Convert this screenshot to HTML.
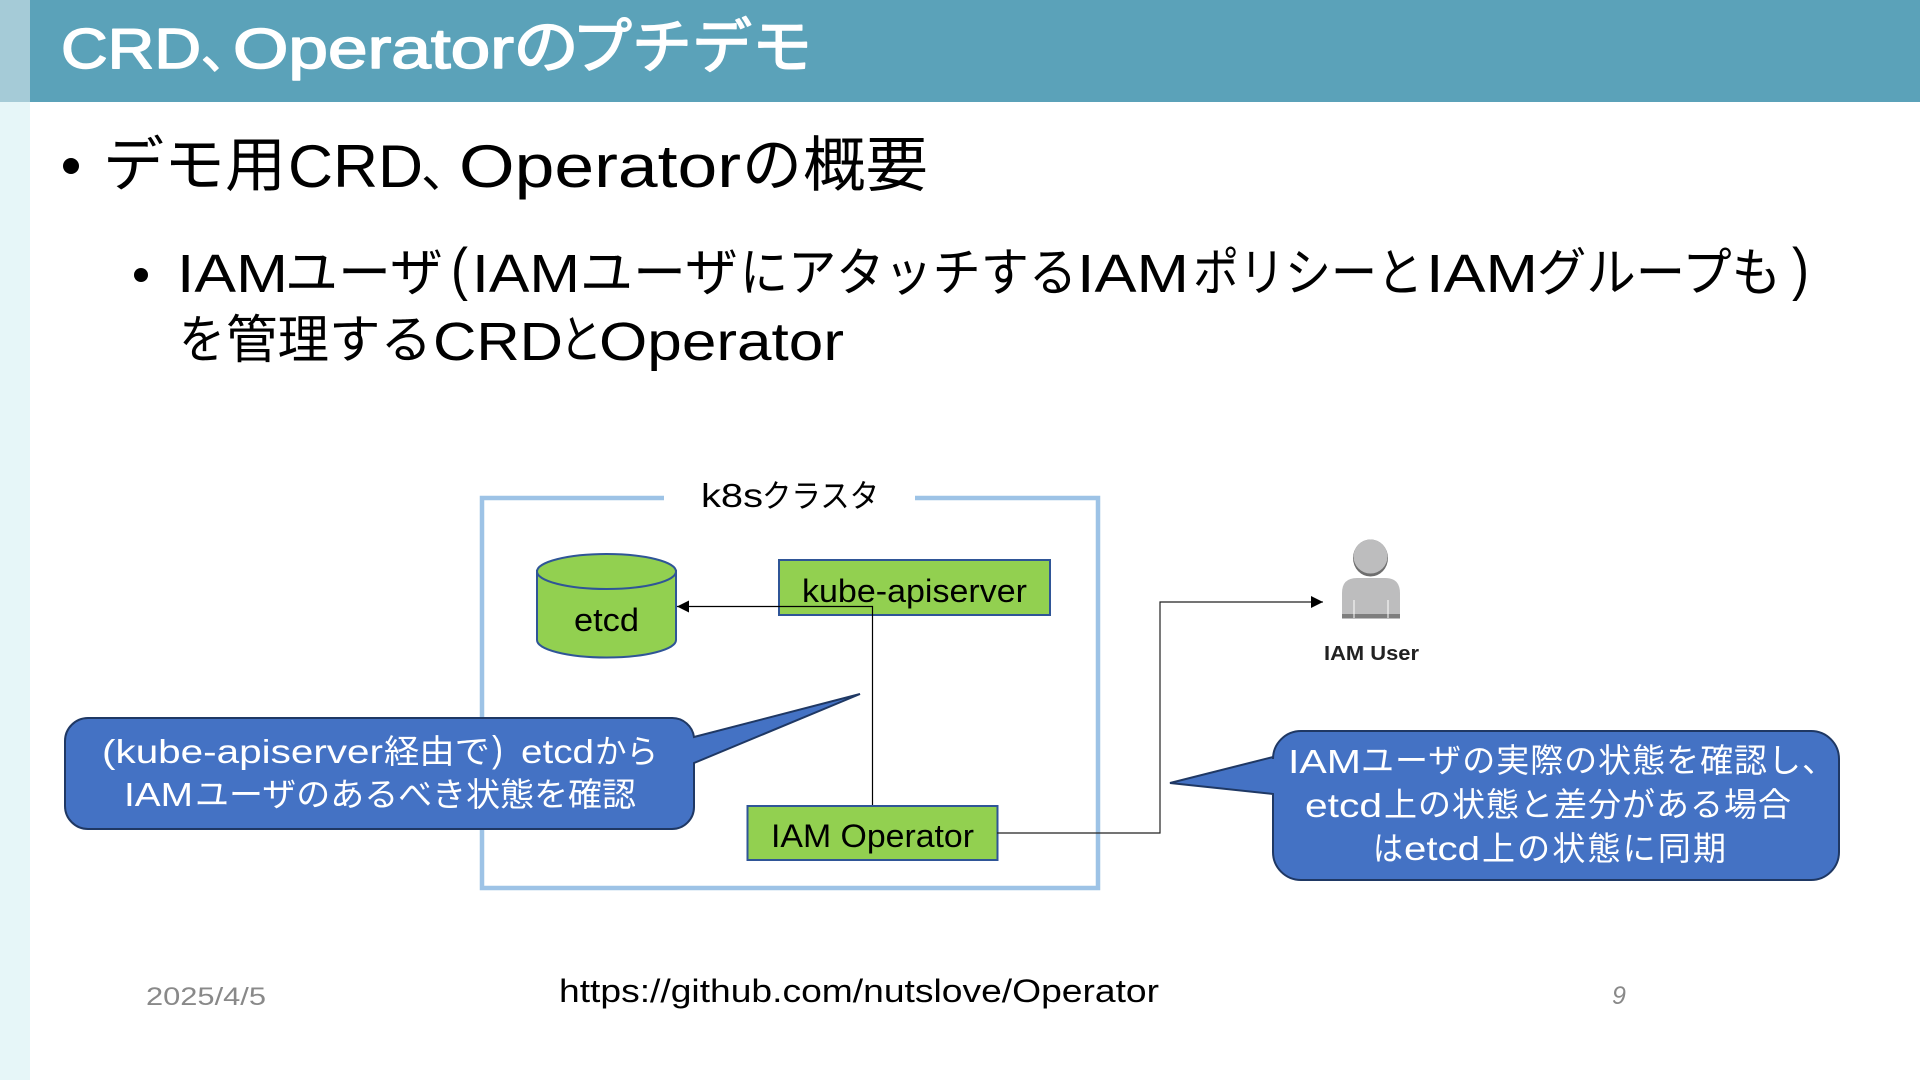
<!DOCTYPE html>
<html lang="ja"><head><meta charset="utf-8"><title>CRD、Operatorのプチデモ</title>
<style>
html,body{margin:0;padding:0;background:#fff;width:1920px;height:1080px;overflow:hidden}
svg{display:block}
text{font-family:"Liberation Sans","Noto Sans CJK JP",sans-serif;}
.t{fill:#fff;stroke:#fff;stroke-width:1.5;stroke-linejoin:round}
.w{fill:#fff}
</style></head><body>
<svg width="1920" height="1080" viewBox="0 0 1920 1080" xmlns="http://www.w3.org/2000/svg">
<defs>
<marker id="a" markerUnits="userSpaceOnUse" markerWidth="14" markerHeight="14" refX="12" refY="6" orient="auto"><path d="M0 0L12 6L0 12Z" fill="#000"/></marker>
</defs>
<rect width="1920" height="1080" fill="#fff"/>
<rect x="0" y="102" width="30" height="978" fill="#E6F6F8"/>
<rect x="0" y="0" width="30" height="102" fill="#A5CBD7"/>
<rect x="30" y="0" width="1890" height="102" fill="#5BA2B9"/>
<g font-size="57">
<text class="t" x="61" y="68" textLength="140" lengthAdjust="spacingAndGlyphs">CRD</text>
<text class="t" x="201" y="68" font-size="50">、</text>
<text class="t" x="233" y="68" textLength="281" lengthAdjust="spacingAndGlyphs">Operator</text>
<text class="t" x="513" y="68" font-size="60" textLength="66" lengthAdjust="spacingAndGlyphs">の</text>
<text class="t" x="572" y="68" font-size="60" textLength="240" lengthAdjust="spacingAndGlyphs">プチデモ</text>
</g>

<circle cx="71" cy="166" r="8" fill="#000"/>
<g font-size="60" fill="#000">
<text x="103" y="186" textLength="183" lengthAdjust="spacingAndGlyphs">デモ用</text>
<text x="288" y="187" textLength="135" lengthAdjust="spacingAndGlyphs">CRD</text>
<text x="421" y="187" font-size="50">、</text>
<text x="459" y="187" textLength="282" lengthAdjust="spacingAndGlyphs">Operator</text>
<text x="742" y="186" textLength="60" lengthAdjust="spacingAndGlyphs">の</text>
<text x="803" y="186" textLength="125" lengthAdjust="spacingAndGlyphs">概要</text>
</g>

<circle cx="141" cy="275" r="7" fill="#000"/>
<g font-size="52" fill="#000">
<text x="177" y="292" font-size="54" textLength="111" lengthAdjust="spacingAndGlyphs">IAM</text>
<text x="285" y="291" textLength="158" lengthAdjust="spacingAndGlyphs">ユーザ</text>
<text x="451" y="289" font-size="58" textLength="17" lengthAdjust="spacingAndGlyphs">(</text>
<text x="472" y="292" font-size="54" textLength="108" lengthAdjust="spacingAndGlyphs">IAM</text>
<text x="580" y="291" textLength="158" lengthAdjust="spacingAndGlyphs">ユーザ</text>
<text x="740" y="291" textLength="337" lengthAdjust="spacingAndGlyphs">にアタッチする</text>
<text x="1077" y="292" font-size="54" textLength="112" lengthAdjust="spacingAndGlyphs">IAM</text>
<text x="1193" y="291" textLength="230" lengthAdjust="spacingAndGlyphs">ポリシーと</text>
<text x="1426" y="292" font-size="54" textLength="112" lengthAdjust="spacingAndGlyphs">IAM</text>
<text x="1537" y="291" textLength="244" lengthAdjust="spacingAndGlyphs">グループも</text>
<text x="1792" y="289" font-size="58" textLength="17" lengthAdjust="spacingAndGlyphs">)</text>
<text x="179" y="358" textLength="46" lengthAdjust="spacingAndGlyphs">を</text>
<text x="226" y="358" textLength="206" lengthAdjust="spacingAndGlyphs">管理する</text>
<text x="433" y="360" font-size="54" textLength="130" lengthAdjust="spacingAndGlyphs">CRD</text>
<text x="560" y="358" textLength="42" lengthAdjust="spacingAndGlyphs">と</text>
<text x="599" y="360" font-size="54" textLength="245" lengthAdjust="spacingAndGlyphs">Operator</text>
</g>

<path d="M664 498H482V888H1098V498H915" fill="none" stroke="#9DC3E6" stroke-width="4.5"/>
<text x="701" y="507" font-size="33" fill="#000" textLength="62" lengthAdjust="spacingAndGlyphs">k8s</text>
<text x="762" y="507" font-size="32" fill="#000" textLength="117" lengthAdjust="spacingAndGlyphs">クラスタ</text>

<path d="M537 571V640A69.5 17.5 0 0 0 676 640V571Z" fill="#92D050" stroke="#2F5597" stroke-width="2"/>
<ellipse cx="606.5" cy="571.5" rx="69.5" ry="17.5" fill="#92D050" stroke="#2F5597" stroke-width="2"/>
<text x="574" y="631" font-size="32" fill="#000" textLength="65" lengthAdjust="spacingAndGlyphs">etcd</text>

<rect x="779" y="560" width="271" height="55" fill="#92D050" stroke="#2F5597" stroke-width="2"/>
<text x="802" y="602" font-size="32" fill="#000" textLength="225" lengthAdjust="spacingAndGlyphs">kube-apiserver</text>

<rect x="747.5" y="806" width="250" height="54" fill="#92D050" stroke="#2F5597" stroke-width="2"/>
<text x="771" y="847" font-size="32" fill="#000" textLength="203" lengthAdjust="spacingAndGlyphs">IAM Operator</text>

<path d="M872.5 805V606.5H677" fill="none" stroke="#000" stroke-width="1.2" marker-end="url(#a)"/>
<path d="M997 833H1160V602H1323" fill="none" stroke="#222" stroke-width="1.2" marker-end="url(#a)"/>

<path d="M88 718H672A22 22 0 0 1 694 737L860 694L694 763V807A22 22 0 0 1 672 829H88A23 23 0 0 1 65 806V741A23 23 0 0 1 88 718Z" fill="#4472C4" stroke="#1F3864" stroke-width="2"/>
<g font-size="33">
<text class="w" x="102" y="763" textLength="281" lengthAdjust="spacingAndGlyphs">(kube-apiserver</text>
<text class="w" x="384" y="763" textLength="106" lengthAdjust="spacingAndGlyphs">経由で</text>
<text class="w" x="492" y="762" font-size="37" textLength="11" lengthAdjust="spacingAndGlyphs">)</text>
<text class="w" x="521" y="763" textLength="73" lengthAdjust="spacingAndGlyphs">etcd</text>
<text class="w" x="595" y="763" textLength="63" lengthAdjust="spacingAndGlyphs">から</text>
<text class="w" x="124" y="806" textLength="69" lengthAdjust="spacingAndGlyphs">IAM</text>
<text class="w" x="195" y="806" textLength="441" lengthAdjust="spacingAndGlyphs">ユーザのあるべき状態を確認</text>
</g>

<path d="M1301 731H1811A28 28 0 0 1 1839 759V852A28 28 0 0 1 1811 880H1301A28 28 0 0 1 1273 852V794L1170 783L1273 757V759A28 28 0 0 1 1301 731Z" fill="#4472C4" stroke="#1F3864" stroke-width="2"/>
<g font-size="33">
<text class="w" x="1288" y="773" textLength="73" lengthAdjust="spacingAndGlyphs">IAM</text>
<text class="w" x="1361" y="772" textLength="474" lengthAdjust="spacing">ユーザの実際の状態を確認し、</text>
<text class="w" x="1305" y="817" textLength="77" lengthAdjust="spacingAndGlyphs">etcd</text>
<text class="w" x="1384" y="816" textLength="407" lengthAdjust="spacing">上の状態と差分がある場合</text>
<text class="w" x="1373" y="860" textLength="30" lengthAdjust="spacingAndGlyphs">は</text>
<text class="w" x="1404" y="860" textLength="76" lengthAdjust="spacingAndGlyphs">etcd</text>
<text class="w" x="1482" y="860" textLength="244" lengthAdjust="spacing">上の状態に同期</text>
</g>

<ellipse cx="1370.5" cy="558" rx="17.5" ry="18.5" fill="#6E6E6E"/>
<ellipse cx="1370.5" cy="556.5" rx="17" ry="17" fill="#BDBDBE"/>
<path d="M1342 619V593Q1342 578 1357 578H1385Q1400 578 1400 593V619Z" fill="#BDBDBE"/>
<rect x="1342" y="614" width="58" height="4" fill="#7E7E7E"/>
<path d="M1354 600V618M1388 600V618" stroke="#fff" stroke-width="1"/>
<text x="1324" y="660" font-size="20" font-weight="700" fill="#222" textLength="95" lengthAdjust="spacingAndGlyphs">IAM User</text>

<text x="146" y="1005" font-size="25" fill="#898989" textLength="120" lengthAdjust="spacingAndGlyphs">2025/4/5</text>
<text x="559" y="1002" font-size="32" fill="#000" textLength="600" lengthAdjust="spacingAndGlyphs">https://github.com/nutslove/Operator</text>
<text x="1612" y="1004" font-size="25" font-style="italic" fill="#898989">9</text>
</svg>
</body></html>
